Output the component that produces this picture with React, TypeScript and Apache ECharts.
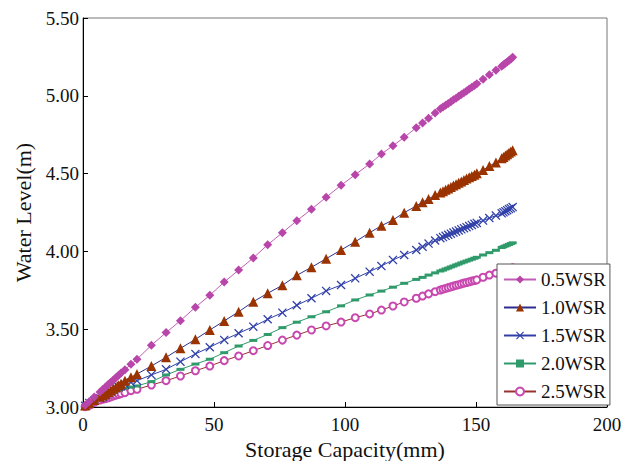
import React, { useEffect, useRef } from "react";
import * as echarts from "echarts";

// Storage capacity (mm) – shared x positions of the markers
const storageCapacity = [
  0.8, 2.4, 4.3, 6.5, 7.6, 8.6, 9.6, 10.6, 11.6, 12.6, 13.6, 14.5, 16.0, 18.3, 20.6,
  26.1, 31.7, 37.2, 42.9, 48.4, 53.9, 59.4, 65.0, 70.5, 76.1, 81.6, 87.2, 92.8, 98.5,
  103.9, 109.4, 113.9, 118.3, 122.6, 127.2, 129.6, 131.9, 134.4, 136.4, 137.4, 138.4,
  139.4, 140.4, 141.4, 142.4, 143.4, 144.4, 145.4, 146.4, 147.4, 148.4, 149.4, 150.3,
  152.7, 155.1, 157.6, 159.8, 160.5, 161.2, 161.9, 162.6, 163.3, 164.0,
];

// Water level (m) for each series
const wsr05 = [
  3.012, 3.036, 3.064, 3.097, 3.114, 3.129, 3.144, 3.159, 3.174, 3.189, 3.204, 3.218, 3.24, 3.274, 3.307,
  3.397, 3.478, 3.555, 3.641, 3.718, 3.803, 3.88, 3.958, 4.043, 4.12, 4.197, 4.271, 4.348, 4.425,
  4.493, 4.562, 4.626, 4.679, 4.733, 4.795, 4.825, 4.855, 4.89, 4.916, 4.928, 4.939,
  4.951, 4.962, 4.974, 4.985, 4.997, 5.008, 5.02, 5.031, 5.043, 5.055, 5.066, 5.077,
  5.106, 5.135, 5.165, 5.19, 5.2, 5.209, 5.218, 5.227, 5.237, 5.247,
];
const wsr10 = [
  3.01, 3.024, 3.045, 3.066, 3.076, 3.085, 3.096, 3.106, 3.118, 3.128, 3.14, 3.15, 3.169, 3.191, 3.212,
  3.263, 3.319, 3.377, 3.435, 3.495, 3.553, 3.612, 3.677, 3.731, 3.782, 3.846, 3.898, 3.953, 4.009,
  4.062, 4.12, 4.165, 4.202, 4.249, 4.292, 4.316, 4.337, 4.362, 4.378, 4.387, 4.396,
  4.405, 4.414, 4.423, 4.432, 4.441, 4.45, 4.459, 4.468, 4.476, 4.485, 4.493, 4.502,
  4.523, 4.549, 4.572, 4.598, 4.607, 4.616, 4.625, 4.634, 4.642, 4.65,
];
const wsr15 = [
  3.008, 3.026, 3.04, 3.056, 3.066, 3.076, 3.088, 3.1, 3.112, 3.12, 3.128, 3.135, 3.145, 3.158, 3.169,
  3.206, 3.242, 3.291, 3.341, 3.384, 3.431, 3.474, 3.516, 3.564, 3.606, 3.654, 3.699, 3.746, 3.784,
  3.827, 3.87, 3.906, 3.945, 3.977, 4.009, 4.03, 4.05, 4.07, 4.085, 4.092, 4.1,
  4.107, 4.114, 4.121, 4.128, 4.135, 4.142, 4.149, 4.156, 4.163, 4.17, 4.177, 4.183,
  4.198, 4.214, 4.23, 4.245, 4.251, 4.258, 4.265, 4.272, 4.278, 4.285,
];
const wsr20 = [
  3.004, 3.016, 3.03, 3.05, 3.062, 3.07, 3.078, 3.088, 3.098, 3.104, 3.11, 3.116, 3.122, 3.128, 3.135,
  3.163, 3.206, 3.242, 3.276, 3.307, 3.349, 3.392, 3.428, 3.466, 3.51, 3.545, 3.58, 3.612, 3.65,
  3.688, 3.72, 3.745, 3.77, 3.795, 3.82, 3.833, 3.848, 3.862, 3.874, 3.88, 3.887,
  3.893, 3.9, 3.906, 3.913, 3.919, 3.926, 3.932, 3.938, 3.944, 3.95, 3.956, 3.962,
  3.977, 3.992, 4.007, 4.025, 4.03, 4.035, 4.04, 4.045, 4.05, 4.055,
];
const wsr25 = [
  3.002, 3.01, 3.03, 3.045, 3.05, 3.054, 3.059, 3.065, 3.071, 3.076, 3.081, 3.086, 3.092, 3.105, 3.114,
  3.141, 3.169, 3.199, 3.233, 3.263, 3.298, 3.328, 3.362, 3.395, 3.43, 3.462, 3.495, 3.521, 3.546,
  3.574, 3.598, 3.623, 3.649, 3.675, 3.699, 3.713, 3.727, 3.741, 3.752, 3.757, 3.762,
  3.767, 3.772, 3.777, 3.782, 3.786, 3.791, 3.796, 3.8, 3.805, 3.809, 3.813, 3.817,
  3.834, 3.848, 3.86, 3.87, 3.874, 3.878, 3.882, 3.886, 3.89, 3.894,
];

const seriesNames = ["0.5WSR", "1.0WSR", "1.5WSR", "2.0WSR", "2.5WSR"];
const seriesValues = [wsr05, wsr10, wsr15, wsr20, wsr25];

const FONT = "Liberation Serif";
const CROSS =
  "path://M0,1L1,0L5,4L9,0L10,1L6,5L10,9L9,10L5,6L1,10L0,9L4,5Z";

const styles = [
  { symbol: "diamond", symbolSize: 9, line: "#c45cb6", item: "#b845a9" },
  { symbol: "triangle", symbolSize: 10, line: "#2e2e8f", item: "#9a3300" },
  { symbol: CROSS, symbolSize: 9, line: "#3040a8", item: "#3040a8" },
  { symbol: "rect", symbolSize: [8, 3], line: "#2f9a6a", item: "#2f9a6a" },
  { symbol: "emptyCircle", symbolSize: 7, line: "#9a3030", item: "#c848b0" },
];

export default function App() {
  const ref = useRef<HTMLDivElement>(null);
  useEffect(() => {
    if (!ref.current) return;
    const chart = echarts.init(ref.current, null, { renderer: "svg" });
    const series = seriesNames.map((name, k) => ({
      name,
      type: "line",
      data: storageCapacity.map((x, i) => [x, seriesValues[k][i]]),
      symbol: styles[k].symbol,
      symbolSize: styles[k].symbolSize,
      showSymbol: true,
      lineStyle: { color: styles[k].line, width: 1 },
      itemStyle: {
        color: styles[k].item,
        borderColor: styles[k].item,
        borderWidth: k === 4 ? 1.2 : 0,
      },
      z: 10 - k,
    }));
    chart.setOption({
      animation: false,
      backgroundColor: "#fff",
      textStyle: { fontFamily: FONT },
      grid: {
        left: 83,
        right: 23,
        top: 18,
        bottom: 54,
        containLabel: false,
        outerBoundsMode: "none",
        show: true,
        borderColor: "#777",
        borderWidth: 1,
        backgroundColor: "transparent",
      },
      legend: {
        orient: "vertical",
        left: 497,
        top: 264,
        data: seriesNames,
        backgroundColor: "#fff",
        borderColor: "#555",
        borderWidth: 1,
        borderRadius: 0,
        padding: [6, 4, 4, 6],
        itemWidth: 32,
        itemHeight: 10,
        itemGap: 9,
        textStyle: { fontFamily: FONT, fontSize: 19, color: "#111" },
        z: 20,
      },
      xAxis: {
        type: "value",
        min: 0,
        max: 200,
        interval: 50,
        name: "Storage Capacity(mm)",
        nameLocation: "middle",
        nameGap: 26,
        nameTextStyle: { fontFamily: FONT, fontSize: 22, color: "#111" },
        axisLine: { show: true, lineStyle: { color: "#000", width: 1 } },
        axisTick: { show: true, inside: true, length: 5, lineStyle: { color: "#000" } },
        axisLabel: { fontFamily: FONT, fontSize: 19, color: "#111", margin: 8 },
        splitLine: { show: false },
      },
      yAxis: {
        type: "value",
        min: 3,
        max: 5.5,
        interval: 0.5,
        name: "Water Level(m)",
        nameLocation: "middle",
        nameGap: 47,
        nameRotate: 90,
        nameTextStyle: { fontFamily: FONT, fontSize: 22, color: "#111" },
        axisLine: { show: true, lineStyle: { color: "#000", width: 1 } },
        axisTick: { show: true, inside: true, length: 5, lineStyle: { color: "#000" } },
        axisLabel: {
          fontFamily: FONT,
          fontSize: 19,
          color: "#111",
          margin: 4,
          formatter: (v: number) => v.toFixed(2),
        },
        splitLine: { show: false },
      },
      series,
    });
    return () => chart.dispose();
  }, []);
  return (
    <div
      ref={ref}
      style={{ position: "fixed", left: 0, top: 0, width: 630, height: 461 }}
    />
  );
}
